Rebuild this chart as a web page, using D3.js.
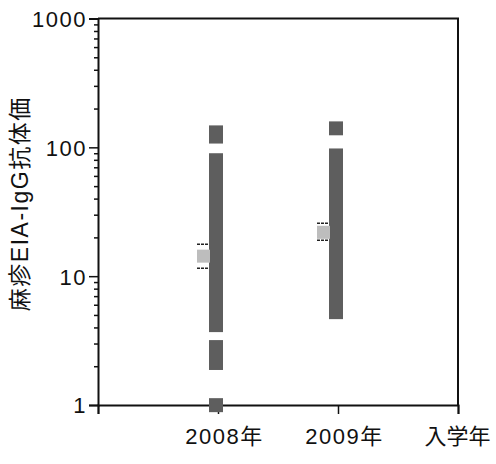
<!DOCTYPE html>
<html>
<head>
<meta charset="utf-8">
<script src="https://cdn.jsdelivr.net/npm/d3@7"></script>
<style>
  body { margin: 0; background: #fff; }
  text { font-family: "Liberation Sans", "Noto Sans CJK JP", sans-serif; fill: #111; }
</style>
</head>
<body>
<script>
// x categories (index 0 is the empty origin)
var xLabels = ["", "2008年", "2009年", "入学年"];
var yTicks = [1, 10, 100, 1000];

// titre ranges drawn as stacked blocks, per year
var seg2008 = [[0.88, 1.13], [1.87, 3.19], [3.68, 90], [107, 148]];
var seg2009 = [[4.64, 98], [124, 159]];

// geometric mean and its interval, per year
var means = [14.3, 21.9];
var ciLow = [11.5, 19.0];
var ciHigh = [17.7, 25.8];

var width = 496, height = 464;
var margin = {top: 18.5, right: 38, bottom: 59, left: 98};

var svg = d3.select("body").append("svg")
    .attr("width", width)
    .attr("height", height);

var x = d3.scaleLinear()
    .domain([0, xLabels.length - 1])
    .range([margin.left, width - margin.right]);

var y = d3.scaleLog()
    .domain([1, 1000])
    .range([height - margin.bottom, margin.top]);

// frame (top and right)
svg.append("path")
    .attr("d", "M" + x(0) + "," + y(1000) + "H" + x(3) + "V" + y(1))
    .attr("fill", "none")
    .attr("stroke", "#111")
    .attr("stroke-width", 2);

// minor ticks
var minor = [];
[1, 10, 100].forEach(function(d) {
  for (var k = 2; k <= 9; k++) minor.push(d * k);
});
svg.append("g")
    .attr("transform", "translate(" + x(0) + ",0)")
    .call(d3.axisLeft(y).tickValues(minor).tickSize(4).tickFormat(""))
    .call(function(g) { g.select(".domain").remove(); })
    .selectAll("line").attr("stroke", "#111").attr("stroke-width", 1.5);

// left axis
var yAxis = svg.append("g")
    .attr("transform", "translate(" + x(0) + ",0)")
    .call(d3.axisLeft(y).tickValues(yTicks).tickSize(9).tickPadding(2)
      .tickFormat(d3.format("d")));
yAxis.select(".domain").attr("stroke", "#111").attr("stroke-width", 2);
yAxis.selectAll("line").attr("stroke", "#111").attr("stroke-width", 1.5);
yAxis.selectAll("text")
    .style("font-size", "22px")
    .attr("letter-spacing", 1.5)
    .attr("dy", "0.36em");

// bottom axis
var xAxis = svg.append("g")
    .attr("transform", "translate(0," + y(1) + ")")
    .call(d3.axisBottom(x).tickValues([0, 1, 2, 3]).tickSize(9).tickPadding(14)
      .tickFormat(function(i) { return xLabels[i]; }));
xAxis.select(".domain").attr("stroke", "#111").attr("stroke-width", 2);
xAxis.selectAll("line").attr("stroke", "#111").attr("stroke-width", 1.5);
xAxis.selectAll("text")
    .style("font-size", "22px")
    .attr("letter-spacing", function(i) { return i === 3 ? 0 : 1.5; })
    .attr("dx", function(i) { return i === 3 ? -1 : 6; });

// range blocks
var barW = 14;
[seg2008, seg2009].forEach(function(segs, i) {
  var cx = x(i + 1) - 2;
  svg.append("g").selectAll("rect")
      .data(segs)
    .enter().append("rect")
      .attr("x", cx - barW / 2)
      .attr("width", barW)
      .attr("y", function(d) { return y(d[1]); })
      .attr("height", function(d) { return y(d[0]) - y(d[1]); })
      .attr("fill", "#5e5e5e");
});

// mean boxes with interval marks
means.forEach(function(m, i) {
  var cx = x(i + 1) - 2;
  var g = svg.append("g");
  g.append("rect")
      .attr("x", cx - 19)
      .attr("width", 13)
      .attr("y", y(m) - 6.5)
      .attr("height", 13)
      .attr("fill", "#bdbdbd");
  [ciLow[i], ciHigh[i]].forEach(function(v) {
    g.append("line")
        .attr("x1", cx - 19).attr("x2", cx - 7)
        .attr("y1", y(v)).attr("y2", y(v))
        .attr("stroke", "#222")
        .attr("stroke-width", 1.5)
        .attr("stroke-dasharray", "3,1");
  });
});

// y label
svg.append("text")
    .attr("transform", "translate(28," + ((y(1) + y(1000)) / 2 - 8) + ") rotate(-90)")
    .attr("text-anchor", "middle")
    .attr("letter-spacing", 1.5)
    .style("font-size", "23px")
    .text("麻疹EIA-IgG抗体価");
</script>
</body>
</html>
